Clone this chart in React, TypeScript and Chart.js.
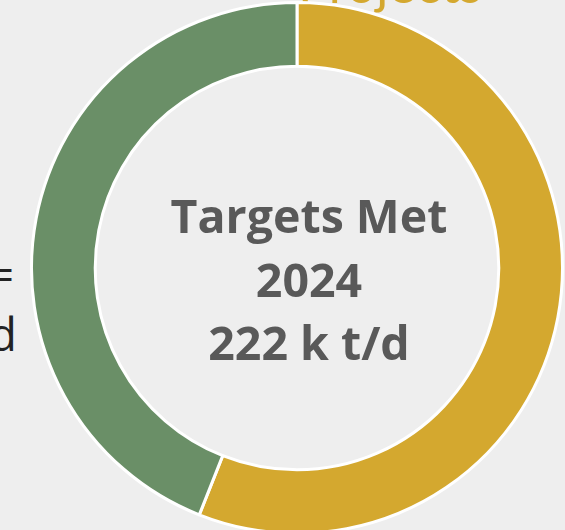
import React, { useEffect, useRef } from "react";
import { Chart, registerables } from "chart.js";

Chart.register(...registerables);

const categories = ["Targets Met", "Remaining"];
const seriesValues = [56, 44];
const sliceColors = ["#D4A82F", "#6A8F67"];
const centerLines = ["Targets Met", "2024", "222 k t/d"];
const leftLines = ["Total =", "205 k t/d"];
const topTitle = "Projects";

export default function App() {
  const canvasRef = useRef<HTMLCanvasElement | null>(null);

  useEffect(() => {
    const canvas = canvasRef.current;
    if (!canvas) return;
    const chart = new Chart(canvas, {
      type: "doughnut",
      data: {
        labels: categories,
        datasets: [
          {
            data: seriesValues,
            backgroundColor: sliceColors,
            borderColor: "#ffffff",
            borderWidth: 3,
            hoverOffset: 0,
          },
        ],
      },
      options: {
        responsive: false,
        animation: false,
        cutout: "76%",
        rotation: 0,
        layout: { padding: 3 },
        plugins: {
          legend: { display: false },
          tooltip: { enabled: false },
        },
      },
    });
    return () => chart.destroy();
  }, []);

  return (
    <div
      style={{
        position: "fixed",
        left: 0,
        top: 0,
        width: 565,
        height: 530,
        overflow: "hidden",
        background: "#eeeeee",
      }}
    >
      <div
        style={{
          position: "absolute",
          left: 298,
          top: -47,
          font: "400 52px Lato, sans-serif",
          color: "#D4A82F",
          whiteSpace: "nowrap",
          lineHeight: "60px",
        }}
      >
        {topTitle}
      </div>
      <canvas
        ref={canvasRef}
        width={540}
        height={540}
        style={{ position: "absolute", left: 27, top: -2, width: 540, height: 540 }}
      />
      <div
        style={{
          position: "absolute",
          right: 551,
          top: 239,
          font: "400 46px 'Open Sans', sans-serif",
          color: "#222222",
          whiteSpace: "nowrap",
          textAlign: "right",
          lineHeight: "68px",
        }}
      >
        {leftLines[0]}
      </div>
      <div
        style={{
          position: "absolute",
          right: 548,
          top: 299,
          font: "400 46px 'Open Sans', sans-serif",
          color: "#222222",
          whiteSpace: "nowrap",
          textAlign: "right",
          lineHeight: "68px",
        }}
      >
        {leftLines[1]}
      </div>
      <div
        style={{
          position: "absolute",
          left: 109,
          width: 400,
          top: 184,
          font: "700 46.5px 'Open Sans', sans-serif",
          color: "#595959",
          textAlign: "center",
          lineHeight: "63.5px",
        }}
      >
        {centerLines.map((l, i) => (
          <div key={i}>{l}</div>
        ))}
      </div>
    </div>
  );
}
